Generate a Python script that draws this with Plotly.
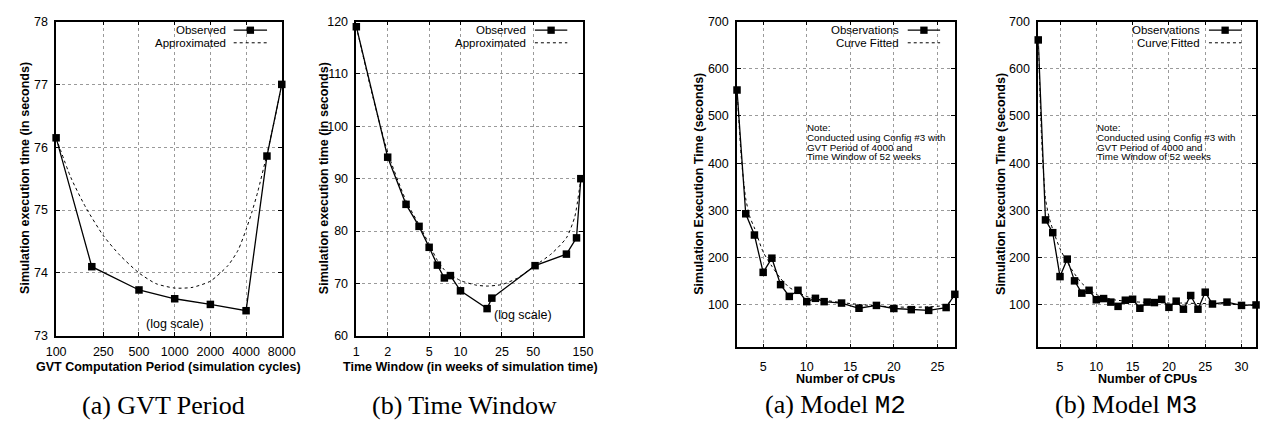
import plotly.graph_objects as go

W, H = 1272, 427

# ---------------- data ----------------
gvt_obs_x = [100, 200, 500, 1000, 2000, 4000, 6000, 8000]
gvt_obs_y = [76.15, 74.1, 73.73, 73.59, 73.5, 73.4, 75.86, 77.0]
gvt_fit_x = [100, 133, 177, 251, 346, 500, 696, 1000, 1400, 2000, 2818, 3420, 4000, 4480, 5000, 6046, 7000, 8000]
gvt_fit_y = [76.15, 75.52, 75.05, 74.59, 74.28, 74.0, 73.83, 73.76, 73.77, 73.87, 74.12, 74.36, 74.69, 74.97, 75.28, 75.92, 76.46, 77.0]

tw_obs_x = [1, 2, 3, 4, 5, 6, 7, 8, 10, 18, 20, 52, 104, 130, 143]
tw_obs_y = [119, 94.1, 85.1, 80.9, 76.9, 73.5, 71.05, 71.5, 68.6, 65.2, 67.2, 73.4, 75.6, 78.7, 90.0]
tw_fit_x = [1, 1.4, 2, 3, 4, 5, 6, 7, 8, 10, 14, 18, 25, 35, 52, 75, 104, 125, 143]
tw_fit_y = [119, 106.6, 95.0, 85.8, 81.2, 77.5, 74.4, 72.6, 71.7, 70.55, 69.7, 69.5, 69.8, 71.0, 73.4, 75.7, 78.7, 82.7, 90.0]

m2_obs_x = [2, 3, 4, 5, 6, 7, 8, 9, 10, 11, 12, 14, 16, 18, 20, 22, 24, 26, 27]
m2_obs_y = [555, 293, 248, 169, 199, 143, 118, 131, 107, 114, 107, 104, 93, 99, 92.5, 90, 88.5, 94.5, 122.5]
m2_fit_x = [2, 2.5, 3, 3.5, 4, 5, 6, 7, 8, 9, 10, 11, 12, 14, 16, 18, 20, 22, 24, 25, 26, 26.5, 27]
m2_fit_y = [555, 410, 325, 285, 263, 212, 182, 156, 137, 127, 118, 113, 110, 105, 101, 98, 96, 95, 96, 97, 100, 108, 122.5]

m3_obs_x = [2, 3, 4, 5, 6, 7, 8, 9, 10, 11, 12, 13, 14, 15, 16, 17, 18, 19, 20, 21, 22, 23, 24, 25, 26, 28, 30, 32]
m3_obs_y = [661, 280, 253, 160, 197, 151, 125, 131, 111, 113.5, 106, 97, 110, 112, 93, 106, 105, 112, 95, 108, 91, 120, 91, 127, 102, 106, 99, 100]
m3_fit_x = [2, 2.5, 3, 3.5, 4, 5, 6, 7, 8, 9, 10, 11, 12, 14, 16, 18, 20, 22, 24, 26, 28, 30, 32]
m3_fit_y = [661, 440, 325, 285, 260, 219, 190, 166, 146, 133, 122, 117, 112, 108, 106, 105, 104, 104, 103, 103, 102, 100, 99]

gvt_ticks = [100, 250, 500, 1000, 2000, 4000, 8000]
tw_ticks = [1, 2, 5, 10, 25, 50, 150]
gvt_yticks = [73, 74, 75, 76, 77, 78]
tw_yticks = [60, 70, 80, 90, 100, 110, 120]
cpu_yticks = [100, 200, 300, 400, 500, 600, 700]
m2_xticks = [5, 10, 15, 20, 25]
m3_xticks = [5, 10, 15, 20, 25, 30]

# ---------------- layout helpers ----------------
SANS = "Liberation Sans, Arial, sans-serif"
SERIF = "Liberation Serif, Times New Roman, serif"
MONO = "Liberation Mono, Courier New, monospace"
FS = 12.5

def px(x):
    return x / W

def py(y):
    return 1 - y / H

panels = [  # left, right, top, bottom in pixels
    (47, 277, 15, 340),
    (353, 584, 15, 340),
    (741, 963, 15, 352),
    (1048, 1270, 15, 352),
]

fig = go.Figure()

series = [
    (gvt_obs_x, gvt_obs_y, gvt_fit_x, gvt_fit_y),
    (tw_obs_x, tw_obs_y, tw_fit_x, tw_fit_y),
    (m2_obs_x, m2_obs_y, m2_fit_x, m2_fit_y),
    (m3_obs_x, m3_obs_y, m3_fit_x, m3_fit_y),
]
for i, (ox, oy, fx, fy) in enumerate(series):
    ax = "" if i == 0 else str(i + 1)
    fig.add_trace(go.Scatter(x=fx, y=fy, mode="lines", xaxis="x" + ax, yaxis="y" + ax,
                             line=dict(color="black", width=1, dash="dot", shape="spline", smoothing=0.6),
                             showlegend=False, cliponaxis=False, hoverinfo="skip"))
    fig.add_trace(go.Scatter(x=ox, y=oy, mode="lines+markers", xaxis="x" + ax, yaxis="y" + ax,
                             line=dict(color="black", width=1.3),
                             marker=dict(symbol="square", size=7.5, color="black"),
                             showlegend=False, cliponaxis=False))

def axis_common():
    return dict(showline=True, linecolor="black", linewidth=1.5, mirror="ticks",
                ticks="inside", ticklen=4, tickcolor="black", tickwidth=1,
                showgrid=True, gridcolor="#9a9a9a", gridwidth=1, griddash="dot",
                zeroline=False, tickfont=dict(family=SANS, size=FS, color="black"),
                fixedrange=True)

xcfg = [
    dict(type="log", range=[2, 3.90309], tickvals=gvt_ticks, ticktext=[str(v) for v in gvt_ticks], ticklabelstandoff=3),
    dict(type="log", range=[0, 2.17609], tickvals=tw_ticks, ticktext=[str(v) for v in tw_ticks], ticklabelstandoff=3),
    dict(range=[2, 27], tickvals=m2_xticks, ticklabelstandoff=7),
    dict(range=[2, 32], tickvals=m3_xticks, ticklabelstandoff=7),
]
ycfg = [
    dict(range=[73, 78], tickvals=gvt_yticks, ticklabelstandoff=4),
    dict(range=[60, 120], tickvals=tw_yticks, ticklabelstandoff=4),
    dict(range=[10, 700], tickvals=cpu_yticks, ticklabelstandoff=4),
    dict(range=[10, 700], tickvals=cpu_yticks, ticklabelstandoff=4),
]

lay = {}
for i, (l, r, t, b) in enumerate(panels):
    s = "" if i == 0 else str(i + 1)
    xa = axis_common(); xa.update(xcfg[i])
    xa.update(domain=[px(l), px(r)], anchor="y" + s)
    ya = axis_common(); ya.update(ycfg[i])
    ya.update(domain=[py(b), py(t)], anchor="x" + s)
    lay["xaxis" + s] = xa
    lay["yaxis" + s] = ya

fig.update_layout(**lay)

annotations = []
shapes = []

def text(xp, yp, s, size=FS, bold=False, angle=0, xanchor="center", family=SANS):
    annotations.append(dict(x=px(xp), y=py(yp), xref="paper", yref="paper", text=("<b>%s</b>" % s) if bold else s,
                            showarrow=False, xanchor=xanchor, yanchor="middle", textangle=angle, borderpad=0,
                            font=dict(family=family, size=size, color="black")))

# axis titles
text(162, 372, "GVT Computation Period (simulation cycles)", bold=True)
text(15, 177, "Simulation execution time (in seconds)", bold=True, angle=-90)
text(469, 372, "Time Window (in weeks of simulation time)", bold=True)
text(320, 177, "Simulation execution time (in seconds)", bold=True, angle=-90)
text(852, 385, "Number of CPUs", bold=True)
text(702, 183, "Simulation Execution Time (seconds)", bold=True, angle=-90)
text(1159, 385, "Number of CPUs", bold=True)
text(1010, 183, "Simulation Execution Time (seconds)", bold=True, angle=-90)

# (log scale) labels
text(168, 328, "(log scale)")
text(523, 318, "(log scale)")

# notes
note_lines = ["Note:", "Conducted using Config #3 with", "GVT Period of 4000 and", "Time Window of 52 weeks"]
for nx in (811.5, 1106.5):
    for k, ln in enumerate(note_lines):
        text(nx, 125 + 10 * k, ln, size=9.8, xanchor="left")

# captions
text(156, 412, "(a) GVT Period", size=26, family=SERIF)
text(463, 412, "(b) Time Window", size=26, family=SERIF)
text(841, 412, '(a) Model <span style="font-family:Liberation Mono">M2</span>', size=26, family=SERIF)
text(1137, 412, '(b) Model <span style="font-family:Liberation Mono">M3</span>', size=26, family=SERIF)

# legends (gnuplot style: text right-aligned, sample on the right)
LY1, LY2 = 24, 37
legends = [
    (221, 228, 262, "Observed", "Approximated"),
    (527, 535, 568, "Observed", "Approximated"),
    (907, 915, 948, "Observations", "Curve Fitted"),
    (1214, 1222, 1255, "Observations", "Curve Fitted"),
]
for tx, x0, x1, l1, l2 in legends:
    text(tx, LY1, l1, size=11.5, xanchor="right")
    text(tx, LY2, l2, size=11.5, xanchor="right")
    shapes.append(dict(type="line", xref="paper", yref="paper", x0=px(x0), x1=px(x1), y0=py(LY1), y1=py(LY1),
                       line=dict(color="black", width=1.3)))
    cx = (x0 + x1) / 2
    shapes.append(dict(type="rect", xref="paper", yref="paper", x0=px(cx - 3.75), x1=px(cx + 3.75),
                       y0=py(LY1 + 3.75), y1=py(LY1 - 3.75), fillcolor="black", line=dict(width=0)))
    shapes.append(dict(type="line", xref="paper", yref="paper", x0=px(x0), x1=px(x1), y0=py(LY2), y1=py(LY2),
                       line=dict(color="black", width=1, dash="dot")))

fig.update_layout(width=W, height=H, margin=dict(l=0, r=0, t=0, b=0),
                  paper_bgcolor="white", plot_bgcolor="white",
                  annotations=annotations, shapes=shapes, showlegend=False,
                  font=dict(family=SANS, size=FS, color="black"))

fig.write_html("out.html", config={"displayModeBar": False},
               post_script="document.body.style.margin='0';document.body.style.overflow='hidden';")
